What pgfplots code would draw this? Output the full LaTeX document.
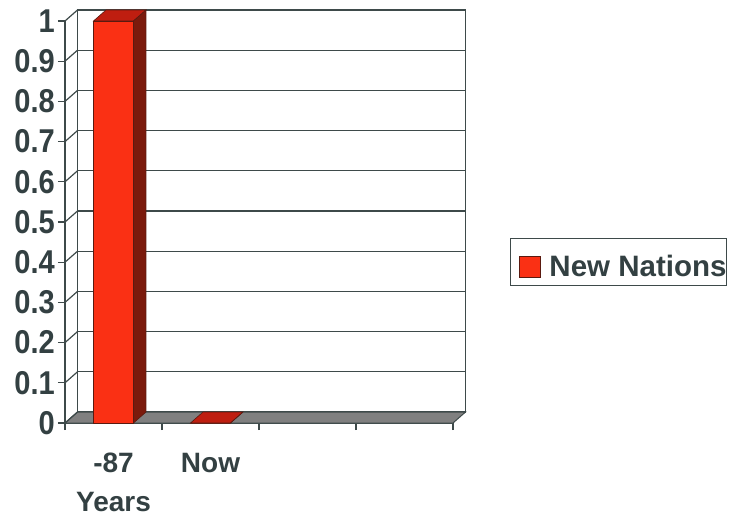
\documentclass[border=0pt]{standalone}
\usepackage{pgfplots}
\usepackage{pgfplotstable}
\pgfplotsset{compat=1.18}
\usepackage{fontspec}
\setmainfont{Liberation Sans}
\newfontfamily\narrowfont{Liberation Sans}[FakeStretch=0.88]

\definecolor{barfront}{HTML}{FA3014}
\definecolor{barside}{HTML}{7B1A0C}
\definecolor{bartop}{HTML}{BF1E10}
\definecolor{barline}{HTML}{5A1A10}
\definecolor{floorgray}{HTML}{808080}
\definecolor{gridc}{HTML}{3E4A4A}
\definecolor{textc}{HTML}{334042}

% category position, value
\pgfplotstableread{
pos val
0.5 1
1.5 0
}\bars

\begin{document}
\begin{tikzpicture}
\useasboundingbox (0,0) rectangle (729pt,520pt);

% back wall of the 3-D box
\begin{axis}[
  at={(77.5pt,108pt)}, anchor=south west, scale only axis,
  width=388pt, height=402pt,
  xmin=0, xmax=4, ymin=0, ymax=1,
  xtick=\empty, ytick={0,0.1,0.2,0.3,0.4,0.5,0.6,0.7,0.8,0.9,1},
  yticklabels={}, major tick length=0pt,
  ymajorgrids, grid style={draw=gridc, line width=1.2pt},
  axis line style={draw=gridc, line width=1.2pt},
]
\end{axis}

% front of the box: axes, floor, bars
\begin{axis}[
  at={(65pt,97pt)}, anchor=south west, scale only axis,
  width=388pt, height=402pt,
  xmin=0, xmax=4, ymin=0, ymax=1, clip=false,
  axis x line*=bottom, axis y line*=left,
  axis line style={-, draw=gridc, line width=1.2pt},
  tick style={draw=gridc, line width=1.2pt},
  tick align=outside, major tick length=7pt,
  xtick={0,1,2,3,4}, xticklabels={},
  extra x ticks={0.5,1.5},
  extra x tick labels={{-87\\Years},{Now}},
  extra x tick style={major tick length=0pt},
  xticklabel style={font=\bfseries\fontsize{28}{38.7}\selectfont,
    text=textc, align=center, inner sep=0pt, anchor=north, yshift=-30pt},
  ytick={0,0.1,0.2,0.3,0.4,0.5,0.6,0.7,0.8,0.9,1},
  yticklabels={0,0.1,0.2,0.3,0.4,0.5,0.6,0.7,0.8,0.9,1},
  yticklabel style={font=\narrowfont\bfseries\fontsize{33}{33}\selectfont,
    text=textc, inner sep=0pt, anchor=east, xshift=-3pt},
  legend style={at={(1.1469,0.3993)}, anchor=west,
    draw=gridc, line width=1pt, fill=white, inner sep=0pt,
    font=\bfseries\fontsize{29.5}{29.5}\selectfont, text=textc,
    nodes={inner xsep=0pt, inner ysep=0pt}},
  legend cell align=left,
]
% floor
\filldraw[fill=floorgray, draw=gridc, line width=1pt]
  (axis cs:0,0) -- (axis cs:4,0) -- ++(12.5pt,11pt)
  -- ([shift={(12.5pt,11pt)}]axis cs:0,0) -- cycle;
% left side wall
\pgfplotsinvokeforeach{0,0.1,0.2,0.3,0.4,0.5,0.6,0.7,0.8,0.9,1}{
  \draw[gridc, line width=1.2pt] (axis cs:0,#1) -- ++(12.5pt,11pt);
}
% bar fronts
\addplot[ybar, bar width=40pt, fill=barfront, draw=barline, line width=0.6pt,
  legend image code/.code={
    \path[draw=none, fill=none] (-9pt,-19.5pt) rectangle (30pt,27.5pt);
    \draw[fill=barfront, draw=barline, line width=0.8pt]
      (0pt,-11pt) rectangle (21pt,10pt);}]
  table[x=pos, y=val] {\bars};
\addlegendentry{New Nations}
% bar tops and sides
\addplot[forget plot, only marks, mark=*, mark size=0pt,
  mark options={draw=none, fill=none},
  scatter, visualization depends on={\thisrow{val} \as \bv},
  scatter/@pre marker code/.code={
    \filldraw[fill=bartop, draw=barline, line width=0.6pt]
      (-20pt,0pt) -- (20pt,0pt) -- (32.5pt,11pt) -- (-7.5pt,11pt) -- cycle;
    \filldraw[fill=barside, draw=barline, line width=0.6pt]
      (20pt,0pt) -- (32.5pt,11pt) -- ++(axis direction cs:0,-\bv)
      -- ++(-12.5pt,-11pt) -- cycle;
  },
  scatter/@post marker code/.code={}]
  table[x=pos, y=val] {\bars};
\end{axis}
\end{tikzpicture}
\end{document}
